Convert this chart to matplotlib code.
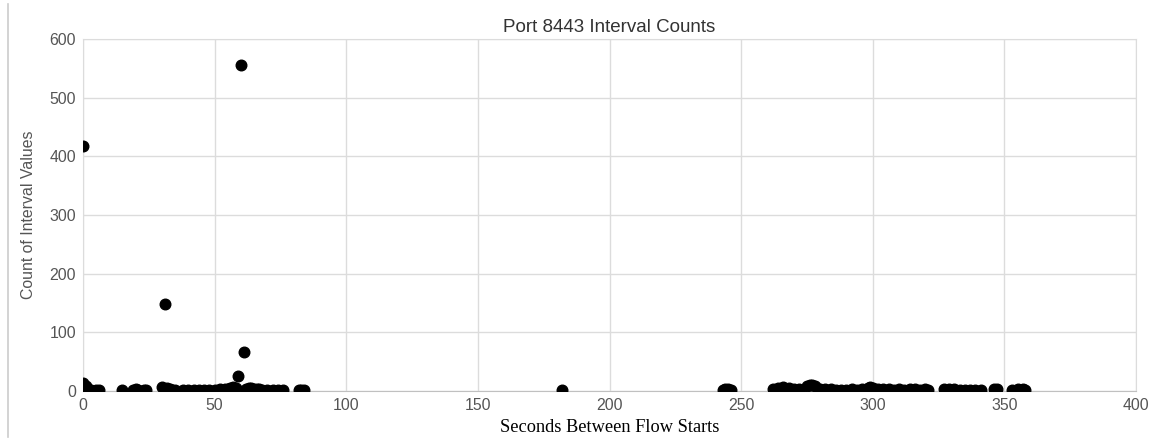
import matplotlib
matplotlib.use('Agg')
import matplotlib.pyplot as plt
from matplotlib.lines import Line2D

# seconds between flow starts and how often each interval was seen
seconds = [0, 0, 1, 2, 3, 5, 6,
           15, 19, 20, 21, 23, 24,
           30, 31, 32, 33, 34, 35,
           38, 40, 42, 44, 46, 48, 50, 52, 54, 55, 56, 57, 58, 59, 60, 61,
           62, 63, 64, 65, 66, 67, 68, 70, 72, 74, 76,
           82, 83, 84,
           182,
           243, 244, 245, 246,
           262, 264, 266, 268, 270, 272, 275, 276, 277, 278, 280, 282, 284,
           286, 288, 290, 292, 294, 296, 298, 299, 300, 302, 304, 306, 308,
           310, 312, 314, 316, 318, 320, 321,
           327, 329, 331, 333, 335, 337, 339, 341,
           346, 347,
           353, 355, 357, 358]
counts = [417, 13, 8, 3, 2, 2, 1,
          1, 2, 3, 2, 1, 1,
          7, 148, 5, 3, 2, 1,
          1, 2, 1, 2, 2, 1, 2, 3, 3, 4, 6, 7, 5, 26, 555, 67,
          4, 6, 5, 4, 3, 3, 2, 2, 2, 1, 1,
          1, 2, 1,
          1,
          2, 3, 3, 2,
          4, 5, 7, 5, 3, 4, 9, 10, 10, 8, 4, 3, 3,
          2, 2, 2, 3, 2, 3, 6, 7, 5, 4, 3, 3, 2,
          3, 2, 3, 3, 2, 3, 2,
          3, 4, 3, 2, 2, 2, 2, 1,
          4, 3,
          2, 3, 3, 2]

x_ticks = [0, 50, 100, 150, 200, 250, 300, 350, 400]
y_ticks = [0, 100, 200, 300, 400, 500, 600]

fig = plt.figure(figsize=(11.51, 4.45), dpi=100)
ax = fig.add_axes([0.0721, 0.1213, 0.9149, 0.7911])

ax.scatter(seconds, counts, s=58, color='black', zorder=3, clip_on=True)

ax.set_xlim(0, 400)
ax.set_ylim(0, 600)
ax.set_xticks(x_ticks)
ax.set_yticks(y_ticks)
ax.grid(True, color='#dcdcdc', linewidth=1)
ax.set_axisbelow(True)
for side in ['top', 'right', 'left']:
    ax.spines[side].set_color('#dcdcdc')
ax.spines['bottom'].set_color('#c0c0c0')
ax.tick_params(length=0, labelsize=11.4, colors='#555555', pad=5)
for lbl in ax.get_xticklabels() + ax.get_yticklabels():
    lbl.set_family('Liberation Sans')

ax.set_title('Port 8443 Interval Counts', fontsize=13.5, color='#333333',
             family='Liberation Sans', pad=5)
ax.set_ylabel('Count of Interval Values', fontsize=11.4, color='#555555',
              family='Liberation Sans', labelpad=10)
ax.set_xlabel('Seconds Between Flow Starts', fontsize=13.2, color='black',
              family='Liberation Serif', labelpad=4)

# thin border line at the left of the image
fig.add_artist(Line2D([0.007, 0.007], [0.018, 0.99], color='#cccccc',
                      linewidth=1.2, transform=fig.transFigure))

fig.savefig('out.png', dpi=100)
